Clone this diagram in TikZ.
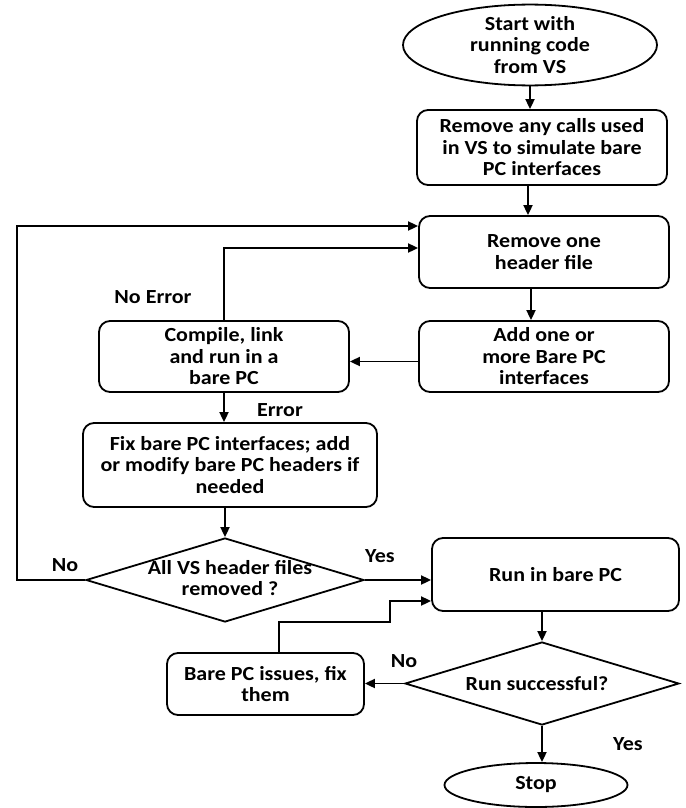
\documentclass[tikz,border=0pt]{standalone}
\usepackage{fontspec}
\setmainfont{Carlito}[FakeStretch=1.1]
\usetikzlibrary{shapes.geometric,arrows.meta}
\begin{document}
\begin{tikzpicture}[x=1pt,y=-1pt,
  every node/.style={font=\fontsize{20pt}{21.5pt}\selectfont\bfseries, inner sep=0pt, align=center},
  box/.style={draw, line width=1.8pt, rounded corners=11pt},
  oval/.style={draw, line width=1.8pt, ellipse},
  dia/.style={draw, line width=1.8pt, diamond},
  arr/.style={line width=1.8pt, -{Triangle[length=10pt,width=9pt]}},
  lab/.style={font=\fontsize{20pt}{21.5pt}\selectfont\bfseries}]
\useasboundingbox (0,0) rectangle (685,808);

\node[oval, minimum width=254pt, minimum height=76pt] (start) at (530,45) {Start with\\running code\\from VS};
\node[box, minimum width=250pt, minimum height=75pt] (box1) at (542,147.5) {Remove any calls used\\in VS to simulate bare\\PC interfaces};
\node[box, minimum width=250pt, minimum height=72pt] (box2) at (544,252) {Remove one\\header file};
\node[box, minimum width=250pt, minimum height=71pt] (box4) at (544,356.5) {Add one or\\more Bare PC\\interfaces};
\node[box, minimum width=250pt, minimum height=71pt] (box3) at (224,356.5) {Compile, link\\and run in a\\bare PC};
\node[box, minimum width=294pt, minimum height=84pt] (box5) at (230,465) {Fix bare PC interfaces; add\\or modify bare PC headers if\\needed};
\node[dia, minimum width=278pt, minimum height=84pt] (d1) at (225,580) {};
\node (d1t) at (230,578) {All VS header files\\removed ?};
\node[box, minimum width=247pt, minimum height=73pt] (box6) at (555.5,574.5) {Run in bare PC};
\node[dia, minimum width=274pt, minimum height=83pt] (d2) at (542,683.5) {};
\node (d2t) at (537,684) {Run successful?};
\node[box, minimum width=197pt, minimum height=62pt] (box7) at (265.5,684) {Bare PC issues, fix\\them};
\node[oval, minimum width=183pt, minimum height=44pt] (stop) at (536,785) {Stop};

\node[lab] (lNoErr) at (153,297) {No Error};
\node[lab] (lErr) at (280,410) {Error};
\node[lab] (lNo1) at (65,565) {No};
\node[lab] (lYes1) at (380,556) {Yes};
\node[lab] (lNo2) at (404,661) {No};
\node[lab] (lYes2) at (628,744) {Yes};

\coordinate (lpA) at (17,226);
\coordinate (lpB) at (224,248);
\coordinate (lpC) at (279,622);
\coordinate (lpD) at (390,601);

\draw[arr] (start.south) -- (start.south |- box1.north);
\draw[arr] ([xshift=-14pt]box1.south) -- ([xshift=-14pt]box1.south |- box2.north);
\draw[arr] ([xshift=-13pt]box2.south) -- ([xshift=-13pt]box2.south |- box4.north);
\draw[arr] ([yshift=-5pt]box4.west) -- ([yshift=-5pt]box4.west -| box3.east);
\draw[arr] (box3.north) -- (lpB) -- (lpB -| box2.west);
\draw[arr] (box3.south) -- (box3.south |- box5.north);
\draw[arr] (box5.south -| d1.north) -- (d1.north);
\draw[arr] (d1.west) -- (d1.west -| lpA) -- (lpA) -- (lpA -| box2.west);
\draw[arr] (d1.east) -- (d1.east -| box6.west);
\draw[arr] (box6.south -| d2.north) -- (d2.north);
\draw[arr] (d2.west) -- (d2.west -| box7.east);
\draw[arr] (box7.north -| lpC) -- (lpC) -- (lpC -| lpD) -- (lpD) -- (lpD -| box6.west);
\draw[arr] (d2.south) -- (d2.south |- stop.north);
\end{tikzpicture}
\end{document}
